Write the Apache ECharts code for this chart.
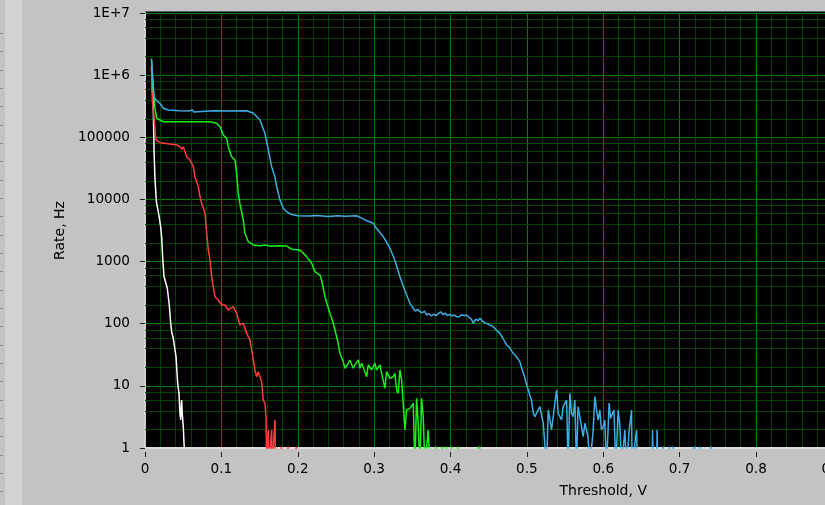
<!DOCTYPE html>
<html>
<head>
<meta charset="utf-8">
<script src="https://cdn.jsdelivr.net/npm/echarts@6/dist/echarts.min.js"></script>
<style>
  html, body { margin: 0; padding: 0; background: #c3c3c3; }
  #chart { width: 825px; height: 505px; }
</style>
</head>
<body>
<div id="chart"></div>
<script>
// Axis tick labels
const xTickLabels = ['0', '0.1', '0.2', '0.3', '0.4', '0.5', '0.6', '0.7', '0.8', '0.9', '1', '1.1', '1.2'];
const yTickLabels = ['1', '10', '100', '1000', '10000', '100000', '1E+6', '1E+7'];

// Counting rate (Hz) versus discriminator threshold (V); values below 1 Hz sit under the axis floor
const whiteRate = [
  [0.0085, 1.3e6], [0.0092, 1.29e6], [0.0109, 2.75e5], [0.0118, 6.25e4], [0.0131, 2.06e4], [0.0144, 1.93e4],
  [0.0150, 9.0e3], [0.0174, 6.35e3], [0.0205, 3.64e3], [0.0219, 2.37e3], [0.0232, 1.13e3], [0.0249, 571],
  [0.0275, 608], [0.0292, 372], [0.0318, 200], [0.0336, 102], [0.0349, 74.4], [0.0370, 58.3], [0.0393, 54.7],
  [0.0406, 29.5], [0.0428, 11.0], [0.0445, 7.59], [0.0458, 3.62], [0.0467, 2.82], [0.0480, 5.92],
  [0.0488, 3.62], [0.0501, 2.2], [0.0514, 2.2], [0.0525, 0.5]
];

const redRate = [
  [0.0085, 1.4e6], [0.0096, 4.0e5], [0.0105, 2.96e5], [0.0131, 1.40e5], [0.0144, 9.06e4], [0.0196, 8.19e4],
  [0.0327, 7.8e4], [0.0415, 7.52e4], [0.0458, 7.06e4], [0.0480, 6.41e4], [0.0501, 7.06e4], [0.0546, 4.87e4],
  [0.0589, 4.31e4], [0.0632, 3.37e4], [0.0654, 2.32e4], [0.0698, 1.60e4], [0.0720, 1.11e4], [0.0742, 8.66e3],
  [0.0785, 5.98e3], [0.0808, 2.85e3], [0.0829, 1.54e3], [0.0851, 1.06e3], [0.0873, 571], [0.0894, 394],
  [0.0916, 272], [0.0959, 241], [0.1004, 200], [0.1047, 200], [0.1090, 166], [0.1156, 188], [0.1200, 147],
  [0.1243, 95.3], [0.1287, 102], [0.1331, 70.1], [0.1374, 54.7], [0.1397, 37.8], [0.1440, 18.0],
  [0.1462, 14.0], [0.1483, 16.9], [0.1527, 11.7], [0.1548, 5.92], [0.1571, 5.24], [0.1584, 3.19],
  [0.1593, 0.5], [0.1614, 1.95], [0.1625, 0.5], [0.1658, 1.95], [0.1665, 0.5], [0.1702, 2.82], [0.1710, 0.5],
  [0.1789, 1.05], [0.1800, 0.5], [0.1876, 1.05], [0.1886, 0.5], [0.1986, 1.05], [0.1996, 0.5]
];

const greenRate = [
  [0.0085, 1.75e6], [0.0101, 7.4e5], [0.0131, 2.93e5], [0.0153, 2.02e5], [0.0196, 1.9e5], [0.0240, 1.78e5],
  [0.0500, 1.78e5], [0.0851, 1.78e5], [0.0938, 1.68e5], [0.0982, 1.48e5], [0.1025, 1.09e5], [0.1069, 9.64e4],
  [0.1090, 7.06e4], [0.1135, 4.87e4], [0.1178, 4.31e4], [0.1200, 2.64e4], [0.1221, 1.26e4], [0.1243, 8.5e3],
  [0.1287, 4.67e3], [0.1309, 2.85e3], [0.1352, 2.09e3], [0.1418, 1.85e3], [0.1500, 1.80e3], [0.1580, 1.84e3],
  [0.1650, 1.76e3], [0.1750, 1.80e3], [0.1855, 1.78e3], [0.1920, 1.58e3], [0.2029, 1.54e3], [0.2051, 1.50e3],
  [0.2117, 1.20e3], [0.2182, 938], [0.2225, 687], [0.2290, 608], [0.2313, 505], [0.2356, 272], [0.2421, 147],
  [0.2465, 102], [0.2509, 61.8], [0.2530, 48.4], [0.2552, 33.4], [0.2596, 24.5], [0.2618, 19.2],
  [0.2661, 23.1], [0.2683, 26.1], [0.2726, 19.2], [0.2749, 21.7], [0.2792, 26.1], [0.2814, 19.2],
  [0.2836, 23.1], [0.2880, 16.9], [0.2902, 14.0], [0.2923, 21.7], [0.2967, 18.0], [0.3010, 23.1],
  [0.3033, 18.0], [0.3076, 21.7], [0.3098, 15.9], [0.3141, 9.14], [0.3163, 16.9], [0.3207, 13.2],
  [0.3250, 14.0], [0.3272, 15.9], [0.3294, 8.57], [0.3315, 7.59], [0.3338, 18.0], [0.3360, 12.4],
  [0.3381, 5.24], [0.3403, 1.95], [0.3425, 4.09], [0.3469, 4.35], [0.3512, 5.24], [0.3534, 0.5],
  [0.3556, 6.31], [0.3577, 2.5], [0.3600, 0.5], [0.3621, 6.31], [0.3643, 3.19], [0.3665, 0.5],
  [0.3708, 1.95], [0.3730, 0.5], [0.3818, 1.05], [0.3828, 0.5], [0.3897, 1.05], [0.3907, 0.5],
  [0.3949, 1.05], [0.3959, 0.5], [0.4014, 1.05], [0.4024, 0.5], [0.4100, 1.05], [0.4110, 0.5],
  [0.4385, 1.05], [0.4395, 0.5]
];

const blueRate = [
  [0.0085, 1.85e6], [0.0101, 9.44e5], [0.0118, 4.5e5], [0.0144, 3.98e5], [0.0196, 3.52e5], [0.0240, 2.93e5],
  [0.0305, 2.75e5], [0.0450, 2.68e5], [0.0580, 2.66e5], [0.0605, 2.55e5], [0.0620, 2.75e5], [0.0640, 2.55e5],
  [0.0660, 2.68e5], [0.0900, 2.68e5], [0.1100, 2.66e5], [0.1330, 2.68e5], [0.1420, 2.43e5], [0.1505, 1.9e5],
  [0.1570, 1.16e5], [0.1614, 6.25e4], [0.1658, 3.37e4], [0.1700, 2.32e4], [0.1724, 1.6e4], [0.1767, 9.8e3],
  [0.1810, 7.2e3], [0.1855, 6.35e3], [0.1900, 5.83e3], [0.2000, 5.47e3], [0.2150, 5.4e3], [0.2250, 5.5e3],
  [0.2400, 5.3e3], [0.2520, 5.45e3], [0.2620, 5.35e3], [0.2770, 5.47e3], [0.2850, 4.9e3], [0.2900, 4.55e3],
  [0.2990, 4.13e3], [0.3030, 3.43e3], [0.3120, 2.51e3], [0.3207, 1.64e3], [0.3270, 1.06e3], [0.3338, 571],
  [0.3400, 349], [0.3469, 213], [0.3512, 177], [0.3540, 160], [0.3570, 170], [0.3600, 156], [0.3630, 150],
  [0.3660, 160], [0.3690, 138], [0.3720, 145], [0.3750, 133], [0.3780, 142], [0.3810, 135], [0.3840, 145],
  [0.3870, 156], [0.3900, 140], [0.3930, 148], [0.3960, 136], [0.3990, 141], [0.4020, 134], [0.4050, 138],
  [0.4080, 130], [0.4120, 131], [0.4150, 140], [0.4180, 134], [0.4210, 138], [0.4240, 128], [0.4270, 120],
  [0.4300, 102], [0.4330, 118], [0.4360, 112], [0.4385, 122], [0.4420, 110], [0.4450, 104], [0.4516, 95],
  [0.4550, 92], [0.4600, 79], [0.4647, 70], [0.4680, 60], [0.4734, 45.5], [0.4770, 42], [0.4820, 33.4],
  [0.4860, 30], [0.4908, 24.5], [0.4940, 18], [0.4970, 14], [0.5000, 10], [0.5020, 8.6], [0.5040, 7.0],
  [0.5060, 5.9], [0.5085, 3.6], [0.5105, 3.19], [0.5127, 3.19], [0.5170, 4.62], [0.5214, 2.5], [0.5258, 0.5],
  [0.5280, 4.09], [0.5323, 1.95], [0.5366, 5.24], [0.5390, 8.57], [0.5410, 3.62], [0.5454, 2.82],
  [0.5475, 4.62], [0.5520, 5.9], [0.5540, 0.5], [0.5563, 7.6], [0.5585, 3.62], [0.5606, 3.19], [0.5628, 5.9],
  [0.5650, 0.5], [0.5670, 4.62], [0.5716, 2.2], [0.5737, 1.52], [0.5760, 2.5], [0.5800, 1.52], [0.5825, 0.5],
  [0.5868, 1.95], [0.5890, 6.7], [0.5912, 4.09], [0.5934, 2.82], [0.5955, 4.09], [0.5977, 1.95], [0.6000, 2.2],
  [0.6020, 2.82], [0.6043, 0.5], [0.6077, 5.3], [0.6095, 3.0], [0.6110, 2.82], [0.6140, 4.09], [0.6165, 0.5],
  [0.6195, 4.09], [0.6217, 2.35], [0.6240, 0.5], [0.6283, 1.95], [0.6305, 0.5], [0.6340, 1.95], [0.6370, 4.09],
  [0.6378, 0.5], [0.6436, 1.95], [0.6449, 0.5], [0.6640, 0.5], [0.6645, 1.95], [0.6655, 0.5],
  [0.6700, 0.5], [0.6705, 1.95], [0.6715, 0.5], [0.6785, 1.05], [0.6795, 0.5], [0.6870, 1.05], [0.6880, 0.5],
  [0.6915, 1.05], [0.6925, 0.5], [0.7200, 1.05], [0.7210, 0.5], [0.7264, 1.05], [0.7274, 0.5], [0.7417, 1.05],
  [0.7427, 0.5]
];

// Log-axis minor grid rows at 2, 4, 6, 8 of every decade
const minorRows = [];
for (let d = 0; d < 7; d++) {
  [2, 4, 6, 8].forEach(m => minorRows.push([0, m * Math.pow(10, d)]));
}

const FONT = 'DejaVu Sans';
const TXT = { fontFamily: FONT, fontSize: 13.6, color: '#000' };
const MAJOR = '#008000';
const MINOR = '#004400';

function curve(name, data, color, z) {
  return {
    name, type: 'line', data, xAxisIndex: 0, yAxisIndex: 0,
    symbol: 'none', showSymbol: false, clip: true, silent: true, z,
    lineStyle: { color, width: 1.5 }, itemStyle: { color }
  };
}

// left panel edge decoration
const panelMarks = [];
for (let y = 33; y < 505; y += 18.33) {
  panelMarks.push({ type: 'line', shape: { x1: 0, y1: Math.round(y) + 0.5, x2: 3, y2: Math.round(y) + 0.5 },
    style: { stroke: '#8c8c8c', lineWidth: 1 }, silent: true });
}

const chart = echarts.init(document.getElementById('chart'), null, { renderer: 'canvas' });
chart.setOption({
  animation: false,
  backgroundColor: '#c3c3c3',
  grid: {
    left: 145, top: 13, width: 916.5, height: 435,
    show: true, backgroundColor: '#000', borderWidth: 0,
    containLabel: false, outerBoundsMode: 'none'
  },
  graphic: [
    { type: 'rect', shape: { x: 5, y: 0, width: 17, height: 505 }, style: { fill: '#d3d3d3' }, silent: true, z: -10 },
    { type: 'line', shape: { x1: 145, y1: 11.5, x2: 825, y2: 11.5 }, style: { stroke: '#5e5e5e', lineWidth: 1 }, silent: true },
    { type: 'line', shape: { x1: 145, y1: 12.5, x2: 825, y2: 12.5 }, style: { stroke: '#000', lineWidth: 1 }, silent: true }
  ].concat(panelMarks),
  xAxis: [
    {
      type: 'value', min: 0, max: 1.2, interval: 0.1, position: 'bottom',
      axisLine: { show: true, onZero: false, lineStyle: { color: '#dcdcdc', width: 2 } },
      axisTick: { show: false }, axisLabel: { show: false },
      splitLine: { show: true, lineStyle: { color: MAJOR, width: 1 } },
      minorTick: { show: false, splitNumber: 5 },
      minorSplitLine: { show: true, lineStyle: { color: MINOR, width: 1 } }
    },
    {
      type: 'value', min: 0, max: 1.2, interval: 0.1, position: 'bottom', offset: 4,
      axisLine: { show: false, onZero: false },
      axisTick: { show: true, length: 5, lineStyle: { color: '#202020', width: 1 } },
      axisLabel: Object.assign({ margin: 10, formatter: v => xTickLabels[Math.round(v * 10)] }, TXT),
      splitLine: { show: false },
      name: 'Threshold, V', nameLocation: 'middle', nameGap: 32,
      nameTextStyle: { fontFamily: FONT, fontSize: 14, color: '#000' }
    }
  ],
  yAxis: [
    {
      type: 'log', logBase: 10, min: 1, max: 1e7, splitNumber: 7, position: 'left',
      axisLine: { show: true, lineStyle: { color: '#d0d0d0', width: 2 } },
      axisTick: { show: false }, axisLabel: { show: false },
      splitLine: { show: true, lineStyle: { color: MAJOR, width: 1 } },
      minorSplitLine: { show: false }
    },
    {
      type: 'log', logBase: 10, min: 1, max: 1e7, splitNumber: 7, position: 'left', offset: 6,
      axisLine: { show: false },
      axisTick: { show: true, length: 5, lineStyle: { color: '#202020', width: 1 } },
      axisLabel: Object.assign({ margin: 9, formatter: v => yTickLabels[Math.round(Math.log10(v))] }, TXT),
      splitLine: { show: false },
      minorSplitLine: { show: false },
      name: 'Rate, Hz', nameLocation: 'middle', nameGap: 69, nameRotate: 90,
      nameTextStyle: { fontFamily: FONT, fontSize: 14, color: '#000' }
    }
  ],
  series: [
    {
      name: 'minor-grid', type: 'custom', data: minorRows, xAxisIndex: 0, yAxisIndex: 0,
      z: 1, silent: true, clip: true,
      encode: { x: 0, y: 1 },
      renderItem: (params, api) => {
        const p = api.coord([0, api.value(1)]);
        const cs = params.coordSys;
        const y = Math.round(p[1]) + 0.5;
        return {
          type: 'line', silent: true,
          shape: { x1: cs.x, y1: y, x2: cs.x + cs.width, y2: y },
          style: { stroke: MINOR, lineWidth: 1 }
        };
      }
    },
    curve('white', whiteRate, '#ffffff', 3),
    curve('red', redRate, '#ff3c3c', 4),
    curve('green', greenRate, '#19f019', 5),
    curve('blue', blueRate, '#3caee6', 6)
  ]
});
</script>
</body>
</html>
